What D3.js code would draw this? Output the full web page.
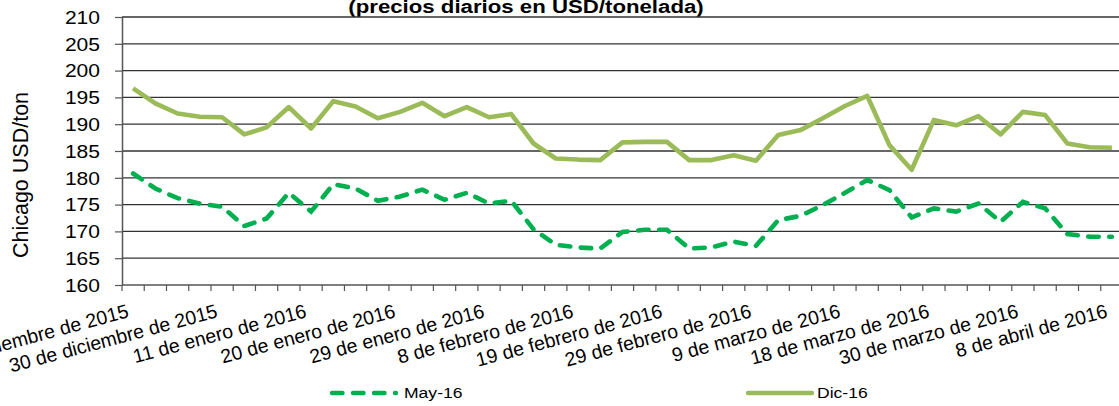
<!DOCTYPE html>
<html>
<head>
<meta charset="utf-8">
<script src="https://cdn.jsdelivr.net/npm/d3@7"></script>
<style>
  body { margin: 0; background: #fff; }
  svg { display: block; font-family: "Liberation Sans", Arial, sans-serif; }
</style>
</head>
<body>
<div id="chart"></div>
<script>
// tick labels, one on every 4th trading day
var tickLabels = ["21 de diciembre de 2015", "30 de diciembre de 2015", "11 de enero de 2016",
    "20 de enero de 2016", "29 de enero de 2016", "8 de febrero de 2016", "19 de febrero de 2016",
    "29 de febrero de 2016", "9 de marzo de 2016", "18 de marzo de 2016", "30 de marzo de 2016",
    "8 de abril de 2016"];
var labelStep = 4;

var may16 = [180.8, 178.0, 176.2, 175.2, 174.6, 171.0, 172.4, 177.2, 173.7, 178.8,
    178.0, 175.7, 176.5, 177.8, 175.9, 177.2, 175.2, 175.7, 170.4, 167.5,
    167.0, 166.8, 169.9, 170.3, 170.3, 166.8, 167.0, 168.1, 167.3, 172.1,
    172.9, 174.9, 177.2, 179.6, 177.7, 172.6, 174.3, 173.7, 175.2, 171.8,
    175.5, 174.3, 169.5, 169.0, 169.0];
var dic16 = [196.7, 193.9, 192.0, 191.4, 191.3, 188.1, 189.4, 193.2, 189.2, 194.3,
    193.3, 191.1, 192.3, 194.0, 191.5, 193.2, 191.3, 191.9, 186.4, 183.6,
    183.4, 183.3, 186.6, 186.7, 186.7, 183.3, 183.3, 184.2, 183.2, 188.0,
    188.9, 191.1, 193.4, 195.3, 186.1, 181.5, 190.8, 189.8, 191.5, 188.1,
    192.3, 191.7, 186.4, 185.7, 185.6];
var yTicks = [160, 165, 170, 175, 180, 185, 190, 195, 200, 205, 210];

var width = 1119, height = 406;
var sx = 1.17; // text in the source is a bit wide

var svg = d3.select("#chart").append("svg")
    .attr("width", width)
    .attr("height", height);

var x = d3.scaleBand()
    .domain(d3.range(dic16.length))
    .range([122, 1123]);
var bw = x.bandwidth();
var y = d3.scaleLinear()
    .domain([160, 210])
    .range([285, 17]);

// title (cut at the top in the source)
svg.append("text")
    .attr("transform", "translate(526,13) scale(" + sx + ",1)")
    .attr("text-anchor", "middle")
    .style("font-weight", "bold")
    .style("font-size", "19px")
    .text("(precios diarios en USD/tonelada)");

// gridlines
svg.append("g")
    .selectAll("line")
    .data(yTicks.slice(1))
    .enter().append("line")
    .attr("x1", 122).attr("x2", 1123)
    .attr("y1", function (d) { return y(d); })
    .attr("y2", function (d) { return y(d); })
    .attr("stroke", "#333")
    .attr("stroke-width", 1.3);

// y axis
var yAxis = svg.append("g")
    .attr("transform", "translate(122,0)")
    .call(d3.axisLeft(y).tickValues(yTicks).tickSize(7).tickSizeOuter(0).tickFormat(d3.format("d")));
yAxis.select(".domain").attr("stroke", "#555").attr("stroke-width", 1.5);
yAxis.selectAll(".tick line").attr("stroke", "#555").attr("stroke-width", 1.2);
yAxis.selectAll(".tick text")
    .attr("x", -22 / sx)
    .attr("dy", "0.35em")
    .attr("transform", "scale(" + sx + ",1)")
    .attr("fill", "#000")
    .style("font-size", "18px")
    .style("font-family", "'Liberation Sans', Arial, sans-serif");

svg.append("text")
    .attr("transform", "translate(28,175) rotate(-90)")
    .attr("text-anchor", "middle")
    .style("font-size", "21.5px")
    .text("Chicago USD/ton");

// x axis: line, ticks between categories, rotated labels
var xAxis = svg.append("g");
xAxis.append("line")
    .attr("x1", 122).attr("x2", 1123)
    .attr("y1", y(160)).attr("y2", y(160))
    .attr("stroke", "#555").attr("stroke-width", 1.5);
xAxis.selectAll("line.tk")
    .data(d3.range(dic16.length + 1))
    .enter().append("line")
    .attr("class", "tk")
    .attr("x1", function (i) { return 122 + i * bw; })
    .attr("x2", function (i) { return 122 + i * bw; })
    .attr("y1", y(160)).attr("y2", y(160) + 6)
    .attr("stroke", "#555").attr("stroke-width", 1.2);
xAxis.selectAll("text")
    .data(tickLabels)
    .enter().append("text")
    .attr("transform", function (d, k) {
        return "translate(" + (x(k * labelStep) + bw / 2 - 3.5) + ",317) rotate(-15)";
    })
    .attr("text-anchor", "end")
    .style("font-size", "19.5px")
    .text(function (d) { return d; });

// series
var line = d3.line()
    .x(function (d, i) { return x(i) + bw / 2; })
    .y(function (d) { return y(d); });

svg.append("path")
    .datum(dic16)
    .attr("d", line)
    .attr("fill", "none")
    .attr("stroke", "#9bbb59")
    .attr("stroke-width", 4.6)
    .attr("stroke-linejoin", "round");

svg.append("path")
    .datum(may16)
    .attr("d", line)
    .attr("fill", "none")
    .attr("stroke", "#00b050")
    .attr("stroke-width", 4.6)
    .attr("stroke-linecap", "round")
    .attr("stroke-dasharray", "10.5,10.5");

// legend
var legend = [
    {name: "May-16", color: "#00b050", dash: "10.5,10.5", x: 332},
    {name: "Dic-16", color: "#9bbb59", dash: null, x: 748}
];
var lg = svg.selectAll("g.legend")
    .data(legend)
    .enter().append("g")
    .attr("class", "legend")
    .attr("transform", function (d) { return "translate(" + d.x + ",393)"; });
lg.append("line")
    .attr("x1", 0).attr("x2", 64)
    .attr("stroke", function (d) { return d.color; })
    .attr("stroke-width", 4.4)
    .attr("stroke-linecap", "round")
    .attr("stroke-dasharray", function (d) { return d.dash; });
lg.append("text")
    .attr("transform", function (d) { return "translate(" + (d.dash ? 72 : 69) + ",0) scale(" + sx + ",1)"; })
    .attr("dy", "0.36em")
    .style("font-size", "15px")
    .text(function (d) { return d.name; });
</script>
</body>
</html>
